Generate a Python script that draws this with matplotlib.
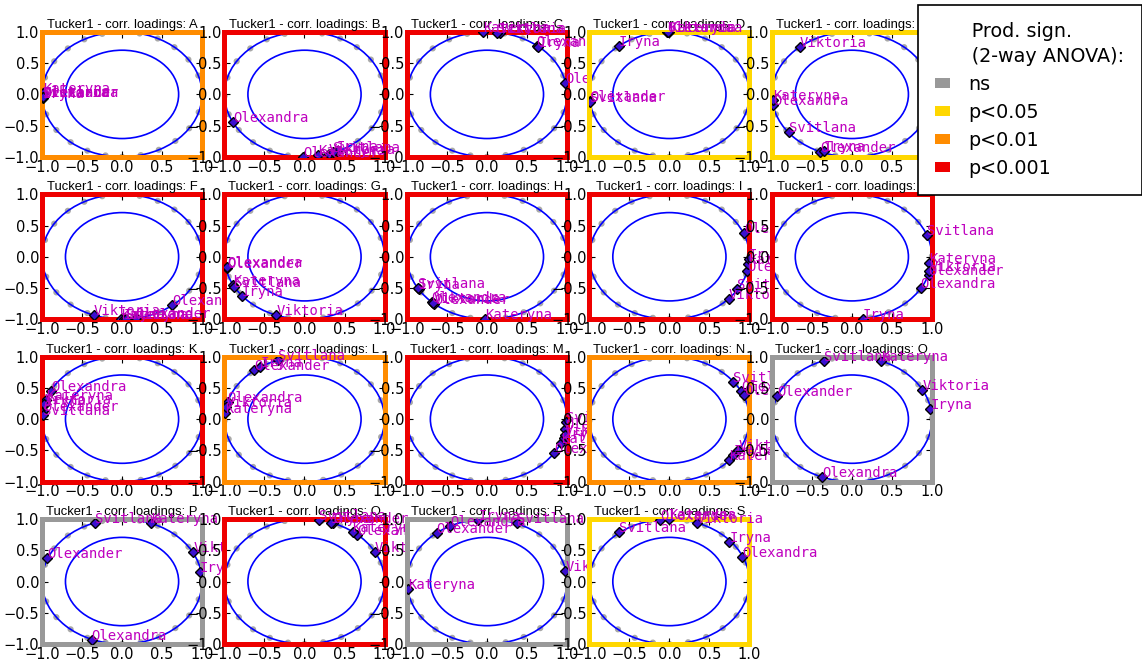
import matplotlib
matplotlib.use("Agg")
import matplotlib.pyplot as plt
from matplotlib.patches import Circle, Patch

# product panels and assessors
panels = list("ABCDEFGHIJKLMNOPQRS")
assessors = ["Olexander", "Olexandra", "Kateryna", "Iryna", "Viktoria", "Svitlana"]

# product significance from the 2-way ANOVA, one entry per panel
signif = ["p<0.01", "p<0.001", "p<0.001", "p<0.05", "p<0.05",
          "p<0.001", "p<0.001", "p<0.001", "p<0.001", "p<0.001",
          "p<0.001", "p<0.01", "p<0.001", "p<0.01", "ns",
          "ns", "p<0.001", "ns", "p<0.05"]

sig_levels = ["ns", "p<0.05", "p<0.01", "p<0.001"]
sig_colors = ["#999999", "#FFD700", "#FF8C00", "#EE0000"]

# correlation loadings (PC1, PC2) per panel, columns follow `assessors`
load_x = [
    [-0.99, -0.99, -0.99, -0.99, -0.99, -0.99],
    [-0.02, -0.89, 0.17, 0.40, 0.30, 0.35],
    [0.62, 0.98, -0.05, 0.64, 0.16, 0.12],
    [-0.99, -0.03, 0.00, -0.63, -0.02, -0.99],
    [-0.40, -0.98, -0.99, -0.35, -0.65, -0.79],
    [0.17, 0.63, -0.01, 0.02, -0.35, 0.05],
    [-0.97, -0.97, -0.89, -0.78, -0.35, -0.88],
    [-0.66, -0.69, -0.02, -0.85, -0.67, -0.86],
    [0.93, 0.97, 0.98, 0.99, 0.74, 0.85],
    [0.96, 0.86, 0.97, 0.14, 0.97, 0.94],
    [-0.99, -0.89, -0.95, -0.97, -0.97, -0.99],
    [-0.63, -0.96, -0.99, -0.55, -0.98, -0.33],
    [0.98, 0.84, 0.93, 0.96, 0.97, 0.99],
    [0.90, 0.93, 0.75, 0.80, 0.86, 0.80],
    [-0.93, -0.37, 0.36, 0.98, 0.88, -0.35],
    [-0.94, -0.38, 0.36, 0.97, 0.89, -0.34],
    [0.36, 0.66, 0.60, 0.33, 0.88, 0.18],
    [-0.63, -0.46, -0.99, -0.11, 0.98, 0.37],
    [-0.12, 0.91, 0.00, 0.75, 0.34, -0.63],
]
load_y = [
    [-0.04, -0.05, 0.02, -0.06, -0.05, -0.04],
    [-1.00, -0.45, -0.97, -0.91, -0.95, -0.93],
    [0.78, 0.18, 1.00, 0.76, 0.99, 0.99],
    [-0.11, 1.00, 1.00, 0.78, 1.00, -0.12],
    [-0.92, -0.17, -0.09, -0.90, 0.76, -0.61],
    [-0.98, -0.78, -1.00, -1.00, -0.94, -0.99],
    [-0.18, -0.17, -0.46, -0.63, -0.94, -0.48],
    [-0.75, -0.72, -1.00, -0.52, -0.74, -0.50],
    [0.38, -0.22, -0.12, -0.03, -0.67, -0.52],
    [-0.30, -0.50, -0.10, -0.99, -0.22, 0.35],
    [0.13, 0.45, 0.31, 0.22, 0.24, 0.06],
    [0.78, 0.28, 0.10, 0.84, 0.20, 0.94],
    [-0.16, -0.55, -0.38, -0.30, -0.26, -0.05],
    [0.45, 0.38, -0.66, -0.58, -0.50, 0.60],
    [0.37, -0.93, 0.93, 0.17, 0.47, 0.93],
    [0.37, -0.93, 0.94, 0.15, 0.47, 0.94],
    [0.93, 0.75, 0.80, 0.94, 0.47, 0.98],
    [0.78, 0.89, -0.12, 0.99, 0.17, 0.93],
    [0.99, 0.39, 1.00, 0.63, 0.94, 0.79],
]

ticks = [-1.0, -0.5, 0.0, 0.5, 1.0]

fig = plt.figure(figsize=(11.42, 6.65), dpi=100)
gs = fig.add_gridspec(4, 5, left=0.0368, right=0.816, top=0.952, bottom=0.0316,
                      wspace=0.14, hspace=0.30)

for i, letter in enumerate(panels):
    ax = fig.add_subplot(gs[i // 5, i % 5])

    # 100% and 50% explained variance circles
    ax.add_patch(Circle((0, 0), 1.0, fill=False, ec="#8c8c8c", lw=4.5, alpha=0.75,
                        ls=(0, (0.01, 3.0)), capstyle="round", zorder=1))
    ax.add_patch(Circle((0, 0), 1.0, fill=False, ec="b", lw=1.2, zorder=2))
    ax.add_patch(Circle((0, 0), 0.5 ** 0.5, fill=False, ec="b", lw=1.2, zorder=2))

    xs, ys = load_x[i], load_y[i]
    ax.plot(xs, ys, "D", ms=5, mfc="#3a10d0", mec="k", mew=1, ls="none", zorder=3)
    for name, x, y in zip(assessors, xs, ys):
        ax.text(x, y, name, color="m", fontsize=10, family="DejaVu Sans Mono", zorder=4)

    ax.set_xlim(-1, 1)
    ax.set_ylim(-1, 1)
    ax.set_xticks(ticks)
    ax.set_yticks(ticks)
    ax.tick_params(direction="in", top=True, right=True, labelsize=10.5, pad=2, length=4)
    ax.set_title(f"Tucker1 - corr. loadings: {letter}", fontsize=9.4,
                 family="Liberation Sans", pad=3)

    col = sig_colors[sig_levels.index(signif[i])]
    for sp in ax.spines.values():
        sp.set_color(col)
        sp.set_linewidth(3.6)

handles = [Patch(facecolor=c, edgecolor="none") for c in sig_colors]
leg = fig.legend(handles, sig_levels, loc="upper left",
                 bbox_to_anchor=(918 / 1142, 1 - 5 / 665), borderaxespad=0,
                 title="      Prod. sign.\n      (2-way ANOVA):",
                 fontsize=13.8, title_fontsize=13.8, alignment="left",
                 handlelength=0.75, handleheight=0.42, handletextpad=0.95,
                 labelspacing=0.47, borderpad=0.9,
                 fancybox=False, framealpha=1, edgecolor="k")
leg.get_frame().set_linewidth(1.2)
leg.get_title().set_linespacing(1.37)

fig.savefig("out.png", dpi=100)
